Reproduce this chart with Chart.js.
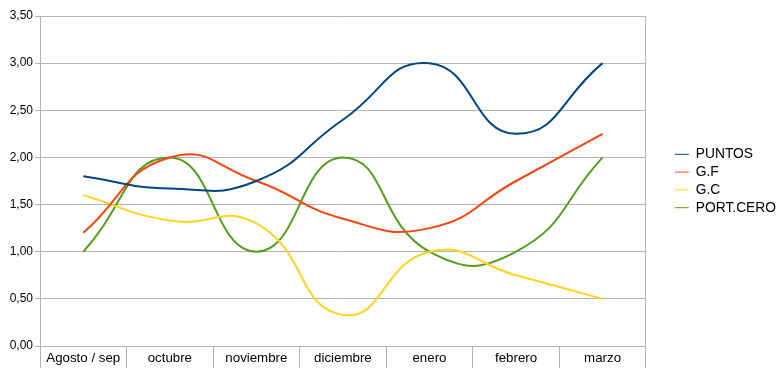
<!DOCTYPE html>
<html>
<head>
<meta charset="utf-8">
<script src="https://cdn.jsdelivr.net/npm/chart.js@4"></script>
<style>
  html, body { margin: 0; padding: 0; background: #fff; }
  #wrap { width: 781px; height: 388px; }
</style>
</head>
<body>
<div id="wrap"><canvas id="myChart" width="781" height="388"></canvas></div>
<script>
'use strict';

// DATA
let months = ['Agosto / sep', 'octubre', 'noviembre', 'diciembre', 'enero', 'febrero', 'marzo'];
let puntos = [1.8, 1.67, 1.75, 2.4, 3.0, 2.25, 3.0];
let golesFavor = [1.2, 2.0, 1.75, 1.35, 1.25, 1.75, 2.25];
let golesContra = [1.6, 1.33, 1.3, 0.33, 1.0, 0.75, 0.5];
let porteriaCero = [1.0, 2.0, 1.0, 2.0, 1.0, 1.0, 2.0];
let yTicks = [0, 0.5, 1, 1.5, 2, 2.5, 3, 3.5];

let gridGray = '#b3b3b3';
let font = 'Liberation Sans, Arial, sans-serif';

function makeLine(label, data, color) {
  return {
    label: label,
    data: data,
    borderColor: color,
    backgroundColor: color,
    borderWidth: 2,
    pointRadius: 0,
    tension: 0.5,
    fill: false
  };
}

const data = {
  labels: months,
  datasets: [
    makeLine('PUNTOS', puntos, '#004586'),
    makeLine('G.F', golesFavor, '#ff420e'),
    makeLine('G.C', golesContra, '#ffd320'),
    makeLine('PORT.CERO', porteriaCero, '#579d1c')
  ]
};

const ctx = document.getElementById('myChart');
const myChart = new Chart(ctx, {
  type: 'line',
  data: data,
  options: {
    responsive: false,
    animation: false,
    layout: { padding: { top: 16, right: -5, bottom: 20, left: 0 } },
    plugins: {
      tooltip: { enabled: false },
      legend: {
        position: 'right',
        fullSize: false,
        labels: {
          color: '#000',
          font: { family: font, size: 13.8 },
          usePointStyle: true,
          pointStyle: 'line',
          pointStyleWidth: 14,
          padding: 4,
          generateLabels: function (chart) {
            return chart.data.datasets.map(function (ds, i) {
              return {
                text: ds.label,
                strokeStyle: ds.borderColor,
                fillStyle: ds.borderColor,
                lineWidth: 1,
                pointStyle: 'line',
                datasetIndex: i,
                hidden: false
              };
            });
          }
        }
      }
    },
    scales: {
      x: {
        offset: true,
        afterFit: function (scale) { scale.height = 22; },
        grid: {
          offset: true,
          drawOnChartArea: false,
          color: gridGray,
          tickColor: gridGray,
          tickLength: 22
        },
        border: { color: gridGray },
        ticks: {
          color: '#000',
          font: { family: font, size: 13.3 },
          padding: -18,
          maxRotation: 0,
          autoSkip: false
        }
      },
      y: {
        min: 0,
        max: 3.5,
        afterFit: function (scale) { scale.width = 40; },
        afterBuildTicks: function (scale) {
          scale.ticks = yTicks.map(function (v) { return { value: v }; });
        },
        grid: { color: gridGray, tickColor: gridGray, tickLength: 5 },
        border: { color: gridGray },
        ticks: {
          color: '#000',
          font: { family: font, size: 12 },
          padding: 2,
          callback: function (v) { return v.toFixed(2).replace('.', ','); }
        }
      },
      yRight: {
        position: 'right',
        min: 0,
        max: 3.5,
        afterFit: function (scale) { scale.width = 25; },
        grid: { drawOnChartArea: false, drawTicks: false },
        border: { color: gridGray },
        ticks: { display: false }
      }
    }
  }
});
</script>
</body>
</html>
